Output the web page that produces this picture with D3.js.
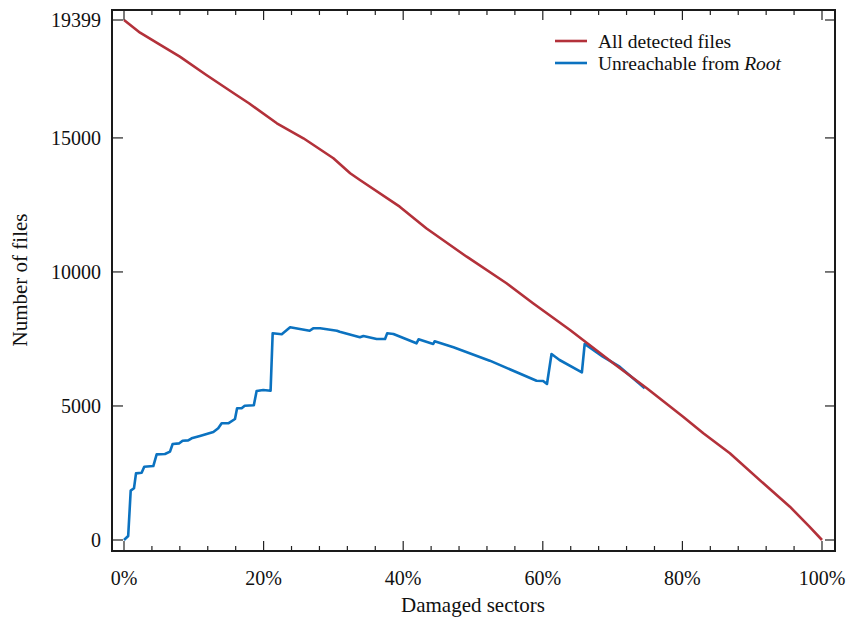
<!DOCTYPE html>
<html><head><meta charset="utf-8">
<script src="https://cdn.jsdelivr.net/npm/d3@7"></script>
<style>body{margin:0;background:#fff}svg{display:block}text{font-family:"Liberation Serif","DejaVu Serif",serif;fill:#111}</style>
</head><body><svg id="c" width="847" height="619"></svg>
<script>
const allPct = [0, 2.3, 5.2, 8.0, 11.8, 16.1, 17.9, 21.9, 25.7, 30.0, 32.4, 33.8, 39.5, 43.3, 49.1, 54.8, 58.6, 63.9, 66.7, 70.1, 74.9, 80.1, 83.0, 86.8, 91.6, 95.4, 98.2, 100];
const allFiles = [19399, 18925, 18467, 18031, 17348, 16601, 16292, 15546, 14986, 14240, 13680, 13430, 12434, 11628, 10569, 9577, 8830, 7834, 7275, 6591, 5659, 4600, 3980, 3234, 2115, 1243, 497, 0];
const unrPct = [0, 0.6, 0.96, 1.43, 1.72, 2.53, 2.9, 4.2, 4.68, 5.87, 6.59, 6.97, 7.92, 8.4, 9.2, 9.69, 10.88, 11.84, 12.8, 13.5, 13.99, 14.94, 15.9, 16.2, 16.85, 17.3, 18.6, 19.0, 19.95, 21.0, 21.3, 22.6, 23.8, 26.6, 27.1, 28.1, 30.5, 30.9, 33.8, 34.3, 36.2, 37.4, 37.7, 38.6, 41.9, 42.2, 44.3, 44.5, 47.2, 52.4, 59.1, 60.05, 60.6, 61.25, 62.4, 65.6, 66.0, 68.6, 71.0, 74.6];
const unrFiles = [0, 149, 1840, 1928, 2486, 2511, 2735, 2760, 3196, 3208, 3295, 3581, 3606, 3705, 3718, 3792, 3880, 3955, 4030, 4166, 4353, 4353, 4514, 4913, 4913, 5010, 5025, 5559, 5596, 5570, 7710, 7673, 7934, 7808, 7897, 7897, 7808, 7772, 7562, 7611, 7499, 7499, 7710, 7685, 7337, 7487, 7312, 7412, 7188, 6690, 5943, 5931, 5820, 6939, 6715, 6256, 7312, 6839, 6466, 5659];
const xMajor = [0, 20, 40, 60, 80, 100];
const xMinor = d3.range(0, 101, 4);
const yTicks = [0, 5000, 10000, 15000, 19399];
const seriesNames = ["All detected files", "Unreachable from "];
const colors = ["#b3313a", "#0b72c0"];

const svg = d3.select("#c");
const L = 112, R = 835, T = 10, B = 551;
const x = d3.scaleLinear().domain([0, 100]).range([124, 822]);
const y = d3.scaleLinear().domain([0, 19399]).range([540, 20]);

const line = d3.line().x(d => x(d[0])).y(d => y(d[1]));
const unr = unrPct.map((p, i) => [p, unrFiles[i]]);
const all = allPct.map((p, i) => [p, allFiles[i]]);

svg.append("path").attr("d", line(unr)).attr("fill", "none").attr("stroke", colors[1]).attr("stroke-width", 2.6).attr("stroke-linejoin", "round");
svg.append("path").attr("d", line(all)).attr("fill", "none").attr("stroke", colors[0]).attr("stroke-width", 2.6).attr("stroke-linejoin", "round");

const g = svg.append("g").attr("stroke", "#222").attr("stroke-width", 1.2);
xMinor.forEach(v => {
  const len = xMajor.includes(v) ? 10 : 5;
  g.append("line").attr("x1", x(v)).attr("x2", x(v)).attr("y1", B).attr("y2", B - len);
  g.append("line").attr("x1", x(v)).attr("x2", x(v)).attr("y1", T).attr("y2", T + len);
});
yTicks.forEach(v => {
  g.append("line").attr("x1", L).attr("x2", L + 11).attr("y1", y(v)).attr("y2", y(v));
  g.append("line").attr("x1", R).attr("x2", R - 10).attr("y1", y(v)).attr("y2", y(v));
});
svg.append("rect").attr("x", L).attr("y", T).attr("width", R - L).attr("height", B - T)
  .attr("fill", "none").attr("stroke", "#1a1a1a").attr("stroke-width", 2);

svg.selectAll(".xl").data(xMajor).enter().append("text")
  .attr("x", d => x(d)).attr("y", 585).attr("text-anchor", "middle").attr("font-size", 20)
  .text(d => d + "%");
svg.selectAll(".yl").data(yTicks).enter().append("text")
  .attr("x", 101).attr("y", d => y(d) + 7).attr("text-anchor", "end").attr("font-size", 20)
  .text(d => d);

svg.append("text").attr("x", 473).attr("y", 612).attr("text-anchor", "middle").attr("font-size", 21).text("Damaged sectors");
svg.append("text").attr("transform", "translate(27,280) rotate(-90)").attr("text-anchor", "middle").attr("font-size", 21).text("Number of files");

seriesNames.forEach((n, i) => {
  const yy = 41 + i * 22;
  svg.append("line").attr("x1", 555).attr("x2", 587).attr("y1", yy).attr("y2", yy).attr("stroke", colors[i]).attr("stroke-width", 2.6);
  const t = svg.append("text").attr("x", 598).attr("y", yy + 6.5).attr("font-size", 19.5);
  t.append("tspan").text(n);
  if (i === 1) t.append("tspan").attr("font-style", "italic").text("Root");
});
</script></body></html>
